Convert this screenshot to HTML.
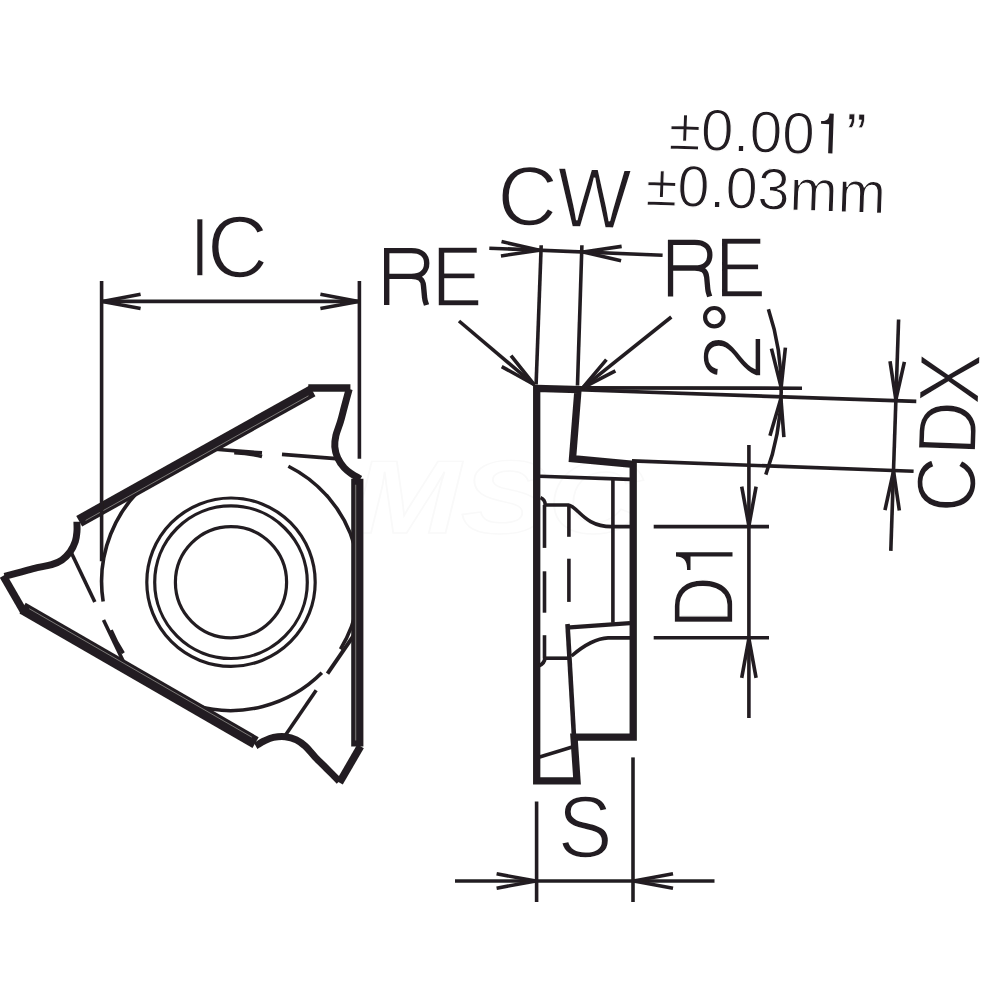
<!DOCTYPE html>
<html><head><meta charset="utf-8"><title>Threading insert dimensions</title>
<style>html,body{margin:0;padding:0;background:#fff}svg{display:block}text{font-family:"Liberation Sans",sans-serif}</style></head>
<body><svg width="1000" height="1000" viewBox="0 0 1000 1000">
<defs><filter id="soft" x="0" y="0" width="1000" height="1000" filterUnits="userSpaceOnUse"><feGaussianBlur stdDeviation="0.45"/></filter></defs>
<rect width="1000" height="1000" fill="#fff"/>
<g filter="url(#soft)">
<text x="352" y="533" font-family="Liberation Sans, sans-serif" font-style="italic" font-weight="bold" font-size="104" fill="none" stroke="#f9f9f9" stroke-width="1.4" textLength="290" lengthAdjust="spacingAndGlyphs">MSC</text>
<text transform="translate(199.75,246.8) rotate(0) scale(0.7097,0.8418) translate(-13.88,34.5)" font-family="Liberation Sans, sans-serif" font-size="100" fill="#231f20" stroke="#fff" stroke-width="2.0">I</text>
<text transform="translate(237.8,246.5) rotate(0) scale(0.8459,0.8696) translate(-36.5,34.5)" font-family="Liberation Sans, sans-serif" font-size="100" fill="#231f20" stroke="#fff" stroke-width="2.0">C</text>
<path transform="translate(384,248) scale(1.0179,1.0035)" d="M2.65,0 V56.7 M2.65,2.65 H27 C37.5,2.65 41.95,8 41.95,15.2 C41.95,22.4 37.5,28.2 27,28.2 H2.65 M27,28.2 C34.5,28.2 38.2,31 38.8,37.5 L39.9,49.5 C40.1,52.5 41.2,54.6 41.8,56.7" fill="none" stroke="#231f20" stroke-width="5.3" stroke-linejoin="miter"/>
<text transform="translate(458.5,276.45) rotate(0) scale(0.7581,0.8493) translate(-35.25,34.5)" font-family="Liberation Sans, sans-serif" font-size="100" fill="#231f20" stroke="#fff" stroke-width="2.0">E</text>
<path transform="translate(667.9,239.8) scale(1.0000,1.0000)" d="M2.65,0 V56.7 M2.65,2.65 H27 C37.5,2.65 41.95,8 41.95,15.2 C41.95,22.4 37.5,28.2 27,28.2 H2.65 M27,28.2 C34.5,28.2 38.2,31 38.8,37.5 L39.9,49.5 C40.1,52.5 41.2,54.6 41.8,56.7" fill="none" stroke="#231f20" stroke-width="5.3" stroke-linejoin="miter"/>
<text transform="translate(741.95,268.15) rotate(0) scale(0.7638,0.8463) translate(-35.25,34.5)" font-family="Liberation Sans, sans-serif" font-size="100" fill="#231f20" stroke="#fff" stroke-width="2.0">E</text>
<text transform="translate(527.95,196.2) rotate(2) scale(0.8311,0.8444) translate(-36.5,34.5)" font-family="Liberation Sans, sans-serif" font-size="100" fill="#231f20" stroke="#fff" stroke-width="2.0">C</text>
<text transform="translate(593.75,198.2) rotate(2) scale(0.7841,0.8529) translate(-47.25,34.5)" font-family="Liberation Sans, sans-serif" font-size="100" fill="#231f20" stroke="#fff" stroke-width="2.0">W</text>
<text transform="translate(741.65,131.2) rotate(2) scale(0.5855,0.5899) translate(-124.38,34.5)" font-family="Liberation Sans, sans-serif" font-size="100" fill="#231f20" stroke="#fff" stroke-width="2.0">±0.00</text>
<path transform="translate(826.9,133.3) rotate(2) translate(-6.21,19.9)" d="M8.12,-39.79 L12.42,-39.79 L12.42,0 L8.12,0 L8.12,-29.13 L0,-29.13 L0,-32.03 L1.22,-32.03 C5.44,-32.03 8.12,-34.51 8.12,-39.79 Z" fill="#231f20"/>
<text transform="translate(856.6,120.7) rotate(2) scale(0.6058,0.6177) translate(-16.75,57.75)" font-family="Liberation Sans, sans-serif" font-size="100" fill="#231f20" stroke="#fff" stroke-width="1.0">”</text>
<text transform="translate(764.95,188.9) rotate(2) scale(0.5772,0.5865) translate(-206.38,34.5)" font-family="Liberation Sans, sans-serif" font-size="100" fill="#231f20" stroke="#fff" stroke-width="2.0">±0.03mm</text>
<text transform="translate(731.6,357) rotate(-90) scale(0.8320,0.8412) translate(-27.88,35)" font-family="Liberation Sans, sans-serif" font-size="100" fill="#231f20" stroke="#fff" stroke-width="2.0">2</text>
<circle cx="714.3" cy="317.2" r="9.2" fill="none" stroke="#231f20" stroke-width="4.2"/>
<text transform="translate(946.3,484.5) rotate(-88) scale(0.7707,0.8376) translate(-36.5,34.5)" font-family="Liberation Sans, sans-serif" font-size="100" fill="#231f20" stroke="#fff" stroke-width="2.0">C</text>
<text transform="translate(947.75,426.9) rotate(-88) scale(0.7491,0.8363) translate(-37.75,34.5)" font-family="Liberation Sans, sans-serif" font-size="100" fill="#231f20" stroke="#fff" stroke-width="2.0">D</text>
<text transform="translate(949.7,378.5) rotate(-88) scale(0.7727,0.8636) translate(-33.38,34.5)" font-family="Liberation Sans, sans-serif" font-size="100" fill="#231f20" stroke="#fff" stroke-width="2.0">X</text>
<text transform="translate(703.75,601.25) rotate(-90) scale(0.7217,0.8582) translate(-37.75,34.5)" font-family="Liberation Sans, sans-serif" font-size="100" fill="#231f20" stroke="#fff" stroke-width="2.0">D</text>
<path transform="translate(704.25,561.1) rotate(-90) translate(-8.9,28.25)" d="M13.5,-56.5 L17.8,-56.5 L17.8,0 L13.5,0 L13.5,-41.98 L0,-41.98 L0,-45.48 L2.02,-45.48 C9.04,-45.48 13.5,-49.01 13.5,-56.5 Z" fill="#231f20"/>
<text transform="translate(585.25,826.9) rotate(0) scale(0.8198,0.8667) translate(-33.5,34.5)" font-family="Liberation Sans, sans-serif" font-size="100" fill="#231f20" stroke="#fff" stroke-width="2.0">S</text>
<circle cx="231.0" cy="582.2" r="84.2" fill="none" stroke="#231f20" stroke-width="3.2"/>
<circle cx="231.0" cy="582.2" r="76.3" fill="none" stroke="#231f20" stroke-width="3.2"/>
<circle cx="231.0" cy="582.2" r="55.6" fill="none" stroke="#231f20" stroke-width="3.2"/>
<path d="M103.15,601.56 A129,129 0 0 1 151.18,479.95" fill="none" stroke="#231f20" stroke-width="3.6" stroke-linecap="butt" stroke-linejoin="miter" />
<path d="M288.36,466.25 A129,129 0 0 1 340.47,649.19" fill="none" stroke="#231f20" stroke-width="3.6" stroke-linecap="butt" stroke-linejoin="miter" />
<path d="M321.82,672.82 A129,129 0 0 1 195.04,705.6" fill="none" stroke="#231f20" stroke-width="3.6" stroke-linecap="butt" stroke-linejoin="miter" />
<path d="M123.28,653.17 A129,129 0 0 1 111.08,630.13" fill="none" stroke="#231f20" stroke-width="3.6" stroke-linecap="butt" stroke-linejoin="miter" />
<path d="M234.2,452.65 A129,129 0 0 1 262.03,456.49" fill="none" stroke="#231f20" stroke-width="3.6" stroke-linecap="butt" stroke-linejoin="miter" />
<line x1="215.6" y1="449.3" x2="262" y2="452.9" stroke="#231f20" stroke-width="3.6" stroke-linecap="butt" />
<line x1="282" y1="454.4" x2="336" y2="458.6" stroke="#231f20" stroke-width="3.6" stroke-linecap="butt" />
<path d="M349.2,389 C348.43,391.83 346.05,400.57 344.6,406 C343.15,411.43 341.95,416.67 340.5,421.6 C339.05,426.53 336.85,431.4 335.9,435.6 C334.95,439.8 334.5,443.07 334.8,446.8 C335.1,450.53 336.13,454.5 337.7,458 C339.27,461.5 341.82,465.1 344.2,467.8 C346.58,470.5 349.6,472.5 352,474.2 C354.4,475.9 357.2,477.2 358.6,478 C360,478.8 360.1,478.83 360.4,479" fill="none" stroke="#231f20" stroke-width="7" stroke-linecap="butt" stroke-linejoin="round" />
<line x1="308.3" y1="388" x2="350.4" y2="388" stroke="#231f20" stroke-width="7.6" stroke-linecap="butt" />
<line x1="353.79" y1="635.31" x2="327.48" y2="673.7" stroke="#231f20" stroke-width="4" stroke-linecap="butt" />
<line x1="316.18" y1="690.27" x2="285.54" y2="734.93" stroke="#231f20" stroke-width="3.6" stroke-linecap="butt" />
<path d="M339.22,781.16 C337.15,779.08 330.77,772.65 326.79,768.68 C322.81,764.71 318.88,761.05 315.33,757.33 C311.79,753.61 308.67,749.27 305.51,746.35 C302.35,743.42 299.74,741.4 296.36,739.79 C292.98,738.19 289.02,737.1 285.21,736.7 C281.4,736.31 277,736.72 273.47,737.43 C269.94,738.15 266.7,739.76 264.03,740.99 C261.36,742.22 258.83,743.99 257.44,744.8 C256.05,745.62 255.97,745.69 255.67,745.86" fill="none" stroke="#231f20" stroke-width="7" stroke-linecap="butt" stroke-linejoin="round" />
<line x1="360.53" y1="746.24" x2="339.48" y2="782.7" stroke="#231f20" stroke-width="7.6" stroke-linecap="butt" />
<line x1="123.61" y1="661.99" x2="103.52" y2="620" stroke="#231f20" stroke-width="3.6" stroke-linecap="butt" />
<line x1="94.82" y1="601.93" x2="71.46" y2="553.07" stroke="#231f20" stroke-width="3.6" stroke-linecap="butt" />
<path d="M4.58,576.44 C7.42,575.68 16.18,573.38 21.61,571.92 C27.04,570.46 32.17,568.88 37.17,567.67 C42.16,566.46 47.48,565.93 51.59,564.65 C55.7,563.38 58.76,562.13 61.84,560.01 C64.92,557.88 67.84,555 70.09,551.9 C72.34,548.79 74.18,544.78 75.33,541.37 C76.47,537.95 76.7,534.34 76.97,531.41 C77.24,528.48 76.97,525.41 76.96,523.8 C76.95,522.18 76.93,522.08 76.93,521.74" fill="none" stroke="#231f20" stroke-width="7" stroke-linecap="butt" stroke-linejoin="round" />
<line x1="24.17" y1="612.36" x2="3.12" y2="575.9" stroke="#231f20" stroke-width="7.6" stroke-linecap="butt" />
<line x1="79.2" y1="521.26" x2="312.5" y2="390.84" stroke="#231f20" stroke-width="12.2" stroke-linecap="butt" />
<line x1="85.61" y1="520.42" x2="308.43" y2="395.87" stroke="#858182" stroke-width="0.9" stroke-linecap="butt" />
<line x1="255.6" y1="742.57" x2="22.6" y2="608.13" stroke="#231f20" stroke-width="12.4" stroke-linecap="butt" />
<line x1="251.8" y1="737.15" x2="29.2" y2="608.7" stroke="#858182" stroke-width="0.9" stroke-linecap="butt" />
<line x1="357.3" y1="746.6" x2="357.3" y2="478.8" stroke="#231f20" stroke-width="12.2" stroke-linecap="butt" />
<line x1="355.6" y1="740.6" x2="355.6" y2="484.8" stroke="#6a6667" stroke-width="1.3" stroke-linecap="butt" />
<line x1="101.6" y1="281" x2="101.6" y2="561.2" stroke="#231f20" stroke-width="3.6" stroke-linecap="butt" />
<line x1="359.4" y1="281" x2="359.4" y2="458.7" stroke="#231f20" stroke-width="3.6" stroke-linecap="butt" />
<line x1="101.6" y1="301.4" x2="359.4" y2="301.4" stroke="#231f20" stroke-width="3.6" stroke-linecap="butt" />
<path d="M140.6,294.2 L102.4,301.4 L140.6,308.6" fill="none" stroke="#231f20" stroke-width="3.6" stroke-linecap="butt" stroke-linejoin="bevel" />
<path d="M320.4,308.6 L358.6,301.4 L320.4,294.2" fill="none" stroke="#231f20" stroke-width="3.6" stroke-linecap="butt" stroke-linejoin="bevel" />
<path d="M536.7,388.4 L578,389.6 L572.5,458.7 L633.2,464.4 L633.2,737.2 L574,737.2 L577,780.8 L536.7,780.8 Z" fill="none" stroke="#231f20" stroke-width="7.3" stroke-linecap="butt" stroke-linejoin="miter" />
<line x1="540" y1="476.2" x2="630" y2="479.4" stroke="#231f20" stroke-width="3.6" stroke-linecap="butt" />
<line x1="612.9" y1="479.8" x2="612.9" y2="622.8" stroke="#231f20" stroke-width="3.6" stroke-linecap="butt" />
<path d="M540.5,497.6 Q545.2,499.5 545.2,505 L568.4,505 C578,506.5 584,526.6 611.6,526.6 L630,526.6" fill="none" stroke="#231f20" stroke-width="3.6" stroke-linecap="butt" stroke-linejoin="miter" />
<line x1="544.5" y1="505" x2="544.5" y2="547.9" stroke="#231f20" stroke-width="3.6" stroke-linecap="butt" />
<line x1="544.5" y1="571.3" x2="544.5" y2="612.7" stroke="#231f20" stroke-width="3.6" stroke-linecap="butt" />
<line x1="544.5" y1="635.2" x2="544.5" y2="658.6" stroke="#231f20" stroke-width="3.6" stroke-linecap="butt" />
<line x1="568.9" y1="506" x2="568.9" y2="536.8" stroke="#231f20" stroke-width="3.6" stroke-linecap="butt" />
<line x1="568.9" y1="558.7" x2="568.9" y2="601.9" stroke="#231f20" stroke-width="3.6" stroke-linecap="butt" />
<line x1="566.5" y1="627.6" x2="630" y2="623.1" stroke="#231f20" stroke-width="4.3" stroke-linecap="butt" />
<path d="M630,637.9 L608,637.9 C594,638.4 582,647 571.5,656" fill="none" stroke="#231f20" stroke-width="3.6" stroke-linecap="butt" stroke-linejoin="miter" />
<line x1="544.5" y1="658.2" x2="570" y2="658.2" stroke="#231f20" stroke-width="3.6" stroke-linecap="butt" />
<path d="M545,657 Q545,663.5 538.7,666" fill="none" stroke="#231f20" stroke-width="3.6" stroke-linecap="butt" stroke-linejoin="miter" />
<line x1="567.5" y1="624" x2="574" y2="737.2" stroke="#231f20" stroke-width="4.6" stroke-linecap="butt" />
<line x1="539.6" y1="757" x2="573" y2="746.8" stroke="#231f20" stroke-width="3.6" stroke-linecap="butt" />
<line x1="577" y1="387.9" x2="802" y2="388.2" stroke="#231f20" stroke-width="3.6" stroke-linecap="butt" />
<line x1="578" y1="389.8" x2="916.3" y2="401.4" stroke="#231f20" stroke-width="3.6" stroke-linecap="butt" />
<line x1="632" y1="460.9" x2="913.6" y2="471.2" stroke="#231f20" stroke-width="3.6" stroke-linecap="butt" />
<line x1="541.2" y1="245.3" x2="536.1" y2="384.5" stroke="#231f20" stroke-width="3.6" stroke-linecap="butt" />
<line x1="581.9" y1="245.3" x2="577.5" y2="385.5" stroke="#231f20" stroke-width="3.6" stroke-linecap="butt" />
<line x1="489.3" y1="248.2" x2="662.6" y2="255.2" stroke="#231f20" stroke-width="3.6" stroke-linecap="butt" />
<path d="M500.94,255.93 L539.4,250.27 L501.52,241.54" fill="none" stroke="#231f20" stroke-width="3.6" stroke-linecap="butt" stroke-linejoin="bevel" />
<path d="M621.66,246.37 L583.2,252.03 L621.08,260.76" fill="none" stroke="#231f20" stroke-width="3.6" stroke-linecap="butt" stroke-linejoin="bevel" />
<line x1="459" y1="321" x2="534.6" y2="385" stroke="#231f20" stroke-width="3.6" stroke-linecap="butt" />
<path d="M501.71,366.59 L533.99,384.48 L511.01,355.6" fill="none" stroke="#231f20" stroke-width="3.6" stroke-linecap="butt" stroke-linejoin="bevel" />
<line x1="671.3" y1="317" x2="582" y2="388.3" stroke="#231f20" stroke-width="3.6" stroke-linecap="butt" />
<path d="M606.42,359.59 L582.63,387.8 L615.41,370.84" fill="none" stroke="#231f20" stroke-width="3.6" stroke-linecap="butt" stroke-linejoin="bevel" />
<path d="M768.4,309.3 A249.23,249.23 0 0 1 765.8,474.6" fill="none" stroke="#231f20" stroke-width="3.6" stroke-linecap="butt" stroke-linejoin="miter" />
<path d="M771.43,348.59 L781.14,387.2 L785.39,347.61" fill="none" stroke="#231f20" stroke-width="3.6" stroke-linecap="butt" stroke-linejoin="bevel" />
<path d="M783.89,437.12 L780.92,398.4 L769.96,435.65" fill="none" stroke="#231f20" stroke-width="3.6" stroke-linecap="butt" stroke-linejoin="bevel" />
<line x1="748.9" y1="445" x2="748.9" y2="718" stroke="#231f20" stroke-width="3.6" stroke-linecap="butt" />
<line x1="653.7" y1="526.6" x2="769" y2="526.6" stroke="#231f20" stroke-width="3.6" stroke-linecap="butt" />
<line x1="653.7" y1="637.8" x2="769" y2="637.8" stroke="#231f20" stroke-width="3.6" stroke-linecap="butt" />
<path d="M741.7,486.6 L748.9,525.8 L756.1,486.6" fill="none" stroke="#231f20" stroke-width="3.6" stroke-linecap="butt" stroke-linejoin="bevel" />
<path d="M756.1,677.8 L748.9,638.6 L741.7,677.8" fill="none" stroke="#231f20" stroke-width="3.6" stroke-linecap="butt" stroke-linejoin="bevel" />
<line x1="898.6" y1="319.5" x2="890.8" y2="550.9" stroke="#231f20" stroke-width="3.6" stroke-linecap="butt" />
<path d="M890.02,361.27 L895.88,399.7 L904.41,361.78" fill="none" stroke="#231f20" stroke-width="3.6" stroke-linecap="butt" stroke-linejoin="bevel" />
<path d="M899.35,510.53 L893.52,471.1 L884.96,510.02" fill="none" stroke="#231f20" stroke-width="3.6" stroke-linecap="butt" stroke-linejoin="bevel" />
<line x1="536.6" y1="801.5" x2="536.6" y2="902" stroke="#231f20" stroke-width="3.6" stroke-linecap="butt" />
<line x1="633" y1="757.4" x2="633" y2="902" stroke="#231f20" stroke-width="3.6" stroke-linecap="butt" />
<line x1="455" y1="881" x2="714.5" y2="881" stroke="#231f20" stroke-width="3.6" stroke-linecap="butt" />
<path d="M496.6,888.2 L535.8,881 L496.6,873.8" fill="none" stroke="#231f20" stroke-width="3.6" stroke-linecap="butt" stroke-linejoin="bevel" />
<path d="M673,873.8 L633.8,881 L673,888.2" fill="none" stroke="#231f20" stroke-width="3.6" stroke-linecap="butt" stroke-linejoin="bevel" />
</g>
</svg></body></html>
